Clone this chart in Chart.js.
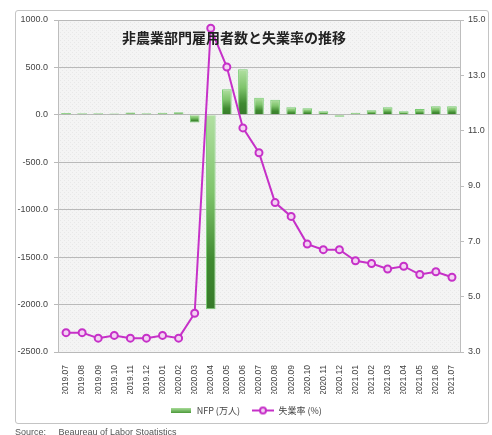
<!DOCTYPE html>
<html>
<head>
<meta charset="utf-8">
<script src="https://cdn.jsdelivr.net/npm/chart.js@4/dist/chart.umd.min.js"></script>
<style>
  html, body { margin: 0; padding: 0; background: #fff; }
  #wrap { position: relative; width: 492px; height: 435px; overflow: hidden; }
  #frame { position: absolute; left: 15px; top: 10px; width: 474px; height: 414px;
           border: 1px solid #c4c4c4; border-radius: 3px; box-sizing: border-box; }
  #c { position: absolute; left: 0; top: 0; }
  #src { position: absolute; left: 15px; top: 427px; font: 9px "Liberation Sans", "DejaVu Sans", sans-serif;
         color: #555; white-space: pre; }
</style>
</head>
<body>
<div id="wrap">
  <div id="frame"></div>
  <canvas id="c" width="492" height="435"></canvas>
  <div id="src">Source:     Beaureau of Labor Stoatistics</div>
</div>
<script>
// Months, 2019.07 - 2021.07
const months = ['2019.07','2019.08','2019.09','2019.10','2019.11','2019.12','2020.01','2020.02','2020.03',
  '2020.04','2020.05','2020.06','2020.07','2020.08','2020.09','2020.10','2020.11','2020.12',
  '2021.01','2021.02','2021.03','2021.04','2021.05','2021.06','2021.07'];

// Nonfarm payrolls change (万人)
const nfp = [20, 17, 18, 15, 26, 18, 21, 28, -80, -2050, 270, 480, 180, 158, 80, 70, 38, -20,
  22, 48, 80, 38, 62, 92, 92];

// Unemployment rate (%)
const unemployment = [3.7, 3.7, 3.5, 3.6, 3.5, 3.5, 3.6, 3.5, 4.4, 14.7, 13.3, 11.1, 10.2, 8.4, 7.9,
  6.9, 6.7, 6.7, 6.3, 6.2, 6.0, 6.1, 5.8, 5.9, 5.7];

// Axis tick ranges
const nfpTicks = { min: -2500, max: 1000, step: 500 };
const rateTicks = { min: 3, max: 15, step: 2 };

const chartTitle = '非農業部門雇用者数と失業率の推移';
const nfpLabel = 'NFP (万人)';
const rateLabel = '失業率 (%)';

const FONT = '"Liberation Sans", "Open Sans", "DejaVu Sans", sans-serif';
const CJK = '"Noto Sans CJK JP", "Noto Sans", sans-serif';
const LINE = '#c631c8';

// Green bar fill: pale at the top edge, deep green at the bottom edge
function barFill(c) {
  const chart = c.chart;
  const y = chart.scales.y;
  if (!y || typeof c.raw !== 'number') return '#6cbf5c';
  const p0 = y.getPixelForValue(0), p1 = y.getPixelForValue(c.raw);
  if (!isFinite(p0) || !isFinite(p1)) return '#6cbf5c';
  const top = Math.min(p0, p1), bot = Math.max(p0, p1);
  if (bot - top < 1) return '#6cbf5c';
  const g = chart.ctx.createLinearGradient(0, top, 0, bot);
  g.addColorStop(0, '#b2e0a2');
  g.addColorStop(0.4, '#7fc46c');
  g.addColorStop(0.75, '#3f8a30');
  g.addColorStop(1, '#377a2a');
  return g;
}

// Legend swatches
function swatchBar() {
  const cv = document.createElement('canvas'); cv.width = 20; cv.height = 5;
  const x = cv.getContext('2d');
  const g = x.createLinearGradient(0, 0, 0, 5);
  g.addColorStop(0, '#a8dc98'); g.addColorStop(1, '#4c9a3a');
  x.fillStyle = g; x.fillRect(0, 0, 20, 5);
  return cv;
}
function swatchLine() {
  const cv = document.createElement('canvas'); cv.width = 22; cv.height = 10;
  const x = cv.getContext('2d');
  x.strokeStyle = LINE; x.lineWidth = 2;
  x.beginPath(); x.moveTo(0, 5); x.lineTo(22, 5); x.stroke();
  x.fillStyle = '#f3d2f3';
  x.beginPath(); x.arc(11, 5, 3, 0, Math.PI * 2); x.fill(); x.stroke();
  return cv;
}

// Plot background and title text
const plotDecor = {
  id: 'plotDecor',
  beforeDraw(chart) {
    const { ctx, chartArea: a } = chart;
    const pc = document.createElement('canvas'); pc.width = 4; pc.height = 4;
    const px = pc.getContext('2d');
    px.fillStyle = '#f4f4f4'; px.fillRect(0, 0, 4, 4);
    px.fillStyle = '#e8e8e8'; px.fillRect(0, 0, 1, 1); px.fillRect(2, 2, 1, 1);
    ctx.save();
    ctx.fillStyle = ctx.createPattern(pc, 'repeat');
    ctx.fillRect(a.left, a.top, a.right - a.left, a.bottom - a.top);
    ctx.restore();
  },
  afterDraw(chart) {
    const { ctx } = chart;
    ctx.save();
    ctx.font = 'bold 14px ' + CJK;
    ctx.fillStyle = '#222';
    ctx.textAlign = 'center';
    ctx.textBaseline = 'middle';
    ctx.fillText(chartTitle, 234, 38);
    ctx.restore();
  }
};

new Chart(document.getElementById('c'), {
  data: {
    labels: months,
    datasets: [
      {
        type: 'line', label: rateLabel, data: unemployment, yAxisID: 'y1', order: 0,
        borderColor: LINE, borderWidth: 2, tension: 0,
        pointRadius: 3.5, pointBorderWidth: 2, pointBackgroundColor: '#f3d2f3', pointBorderColor: LINE
      },
      {
        type: 'bar', label: nfpLabel, data: nfp, yAxisID: 'y', order: 1,
        backgroundColor: barFill, borderColor: '#78cc72', borderWidth: 1,
        categoryPercentage: 0.6, barPercentage: 1.0
      }
    ]
  },
  options: {
    responsive: false, animation: false,
    layout: { padding: { top: 20, left: 0, right: 0, bottom: 10 } },
    plugins: {
      title: { display: false },
      tooltip: { enabled: false },
      legend: {
        position: 'bottom',
        labels: {
          usePointStyle: true, pointStyleWidth: 22, padding: 12, color: '#444',
          font: { size: 9, family: CJK },
          generateLabels(chart) {
            const items = Chart.defaults.plugins.legend.labels.generateLabels(chart);
            items.forEach(it => { it.pointStyle = it.datasetIndex === 1 ? swatchBar() : swatchLine(); });
            return items.sort((a, b) => b.datasetIndex - a.datasetIndex);
          }
        }
      }
    },
    scales: {
      x: {
        grid: { display: false },
        border: { display: false },
        ticks: { minRotation: 90, maxRotation: 90, autoSkip: false, color: '#444', padding: 5,
                 font: { size: 8.5, family: FONT } },
        afterFit(s) { s.height = 42; }
      },
      y: {
        position: 'left', min: nfpTicks.min, max: nfpTicks.max,
        ticks: { stepSize: nfpTicks.step, color: '#444', padding: 6, font: { size: 9, family: FONT },
                 callback: v => Number(v).toFixed(1) },
        grid: { color: '#b9b9b9', lineWidth: 1, tickLength: 4 },
        border: { display: true, color: '#bdbdbd' },
        afterFit(s) { s.width = 58; }
      },
      y1: {
        position: 'right', min: rateTicks.min, max: rateTicks.max,
        ticks: { stepSize: rateTicks.step, color: '#444', padding: 4, font: { size: 9, family: FONT },
                 callback: v => Number(v).toFixed(1) },
        grid: { drawOnChartArea: false, color: '#bdbdbd', tickLength: 4 },
        border: { display: true, color: '#bdbdbd' },
        afterFit(s) { s.width = 32; }
      }
    }
  },
  plugins: [plotDecor]
});
</script>
</body>
</html>
